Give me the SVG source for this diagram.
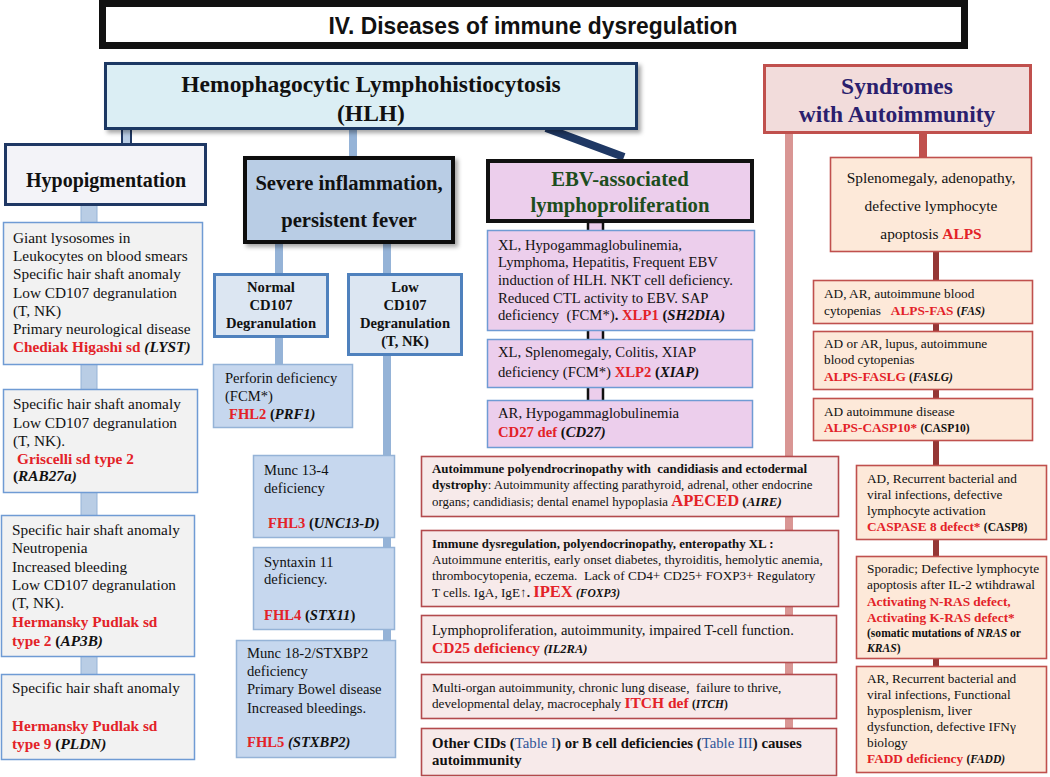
<svg xmlns="http://www.w3.org/2000/svg" width="1050" height="777" viewBox="0 0 1050 777">
<defs>
<filter id="sh" x="-5%" y="-10%" width="115%" height="130%"><feDropShadow dx="3" dy="3" stdDeviation="2" flood-color="#000" flood-opacity="0.35"/></filter>
<style>
text{font-family:"Liberation Serif","Times New Roman",serif;fill:#111;}
.b{font-weight:bold}
.g{font-weight:bold;font-style:italic}
.r{fill:#e32228;font-weight:bold}
.bl{fill:#2f5597;font-weight:normal}
.c{text-anchor:middle}
.lc{fill:#f2f2f2;stroke:#6f9bd4;stroke-width:1.5}
.fh{fill:#c6d7ee;stroke:#95b3d7;stroke-width:1.5}
.eb{fill:#ecceec;stroke:#6f9bd4;stroke-width:1.5}
.au{fill:#f7eaea;stroke:#b34a4d;stroke-width:1.6}
.al{fill:#fde9d9;stroke:#c0504d;stroke-width:1.6}
.cd{fill:#dce6f2;stroke:#4f81bd;stroke-width:3}
.s15{font-size:15.3px}
.s146{font-size:14.6px}
.s147{font-size:14.7px}
.s128{font-size:12.9px}
.s132{font-size:13.2px}
.s133{font-size:13.3px}
</style>
</defs>
<rect width="1050" height="777" fill="#fff"/>

<g id="connectors">
<rect x="122" y="129" width="9" height="15" fill="#b9cde5" stroke="#1f3864" stroke-width="2"/>
<rect x="349" y="130" width="8" height="28" fill="#95b3d7"/>
<line x1="546" y1="128" x2="624" y2="157" stroke="#1f3864" stroke-width="8"/>
<rect x="785" y="134" width="8" height="596" fill="#d99694"/>
<rect x="919" y="134" width="8" height="24" fill="#c0504d"/>
<rect x="933" y="252" width="6" height="415" fill="#953735"/>
<rect x="81" y="205" width="16" height="470" fill="#b9cde5" stroke="#95b3d7" stroke-width="1"/>
<rect x="275" y="242" width="8" height="32" fill="#95b3d7"/>
<rect x="275" y="337" width="8" height="28" fill="#95b3d7"/>
<rect x="383" y="242" width="8" height="400" fill="#95b3d7"/>
<rect x="588" y="222" width="15" height="180" fill="#ecceec" stroke="#111" stroke-width="2.5"/>
</g>

<g id="title">
<rect x="102.5" y="3.5" width="862" height="42" fill="#fff" stroke="#111" stroke-width="7"/>
<text x="533" y="34" class="c" style="font-family:'Liberation Sans',Arial,sans-serif;font-weight:bold;font-size:24px" textLength="409" lengthAdjust="spacingAndGlyphs">IV. Diseases of immune dysregulation</text>
</g>

<g id="hlh">
<rect x="105.5" y="63.5" width="531" height="65" fill="#dbeef4" stroke="#1f3864" stroke-width="3" filter="url(#sh)"/>
<text class="b c" x="371" y="92" style="font-size:23.5px">Hemophagocytic Lymphohistiocytosis</text>
<text class="b c" x="371" y="121" style="font-size:23.5px">(HLH)</text>
</g>

<g id="syndromes">
<rect x="764.5" y="65.5" width="266" height="67" fill="#f2dcdb" stroke="#c0504d" stroke-width="3"/>
<text class="b c" x="897" y="94" style="font-size:23.5px;fill:#2b1f6e">Syndromes</text>
<text class="b c" x="897" y="122" style="font-size:23.5px;fill:#2b1f6e">with Autoimmunity</text>
</g>

<g id="hypopigmentation">
<rect x="5.5" y="144.5" width="200" height="60" fill="#f3f3f8" stroke="#1f3864" stroke-width="3"/>
<text class="b c" x="106" y="187" style="font-size:20px">Hypopigmentation</text>
</g>

<g id="chediak">
<rect class="lc" x="3.5" y="222.5" width="199" height="142"/>
<text class="s15" x="13" y="243">Giant lysosomes in</text>
<text class="s15" x="13" y="261">Leukocytes on blood smears</text>
<text class="s15" x="13" y="279">Specific hair shaft anomaly</text>
<text class="s15" x="13" y="298">Low CD107 degranulation</text>
<text class="s15" x="13" y="316">(T, NK)</text>
<text class="s15" x="13" y="334">Primary neurological disease</text>
<text class="s15" x="13" y="352"><tspan class="r">Chediak Higashi sd</tspan> <tspan class="g">(LYST)</tspan></text>
</g>

<g id="griscelli">
<rect class="lc" x="3.5" y="389.5" width="194" height="103"/>
<text class="s15" x="13" y="409">Specific hair shaft anomaly</text>
<text class="s15" x="13" y="428">Low CD107 degranulation</text>
<text class="s15" x="13" y="446">(T, NK).</text>
<text class="s15 r" x="17" y="464">Griscelli sd type 2</text>
<text class="s15" x="13" y="481"><tspan class="b">(</tspan><tspan class="g">RAB27a)</tspan></text>
</g>

<g id="hp2">
<rect class="lc" x="1.5" y="515.5" width="193" height="141"/>
<text class="s15" x="12" y="535">Specific hair shaft anomaly</text>
<text class="s15" x="12" y="553">Neutropenia</text>
<text class="s15" x="12" y="572">Increased bleeding</text>
<text class="s15" x="12" y="590">Low CD107 degranulation</text>
<text class="s15" x="12" y="608">(T, NK).</text>
<text class="s15 r" x="12" y="627">Hermansky Pudlak sd</text>
<text class="s15" x="12" y="646"><tspan class="r">type 2</tspan> <tspan class="b">(</tspan><tspan class="g">AP3B)</tspan></text>
</g>

<g id="hp9">
<rect class="lc" x="1.5" y="674.5" width="193" height="85"/>
<text class="s15" x="12" y="693">Specific hair shaft anomaly</text>
<text class="s15 r" x="12" y="731">Hermansky Pudlak sd</text>
<text class="s15" x="12" y="749"><tspan class="r">type 9</tspan> <tspan class="b">(</tspan><tspan class="g">PLDN)</tspan></text>
</g>

<g id="severe">
<rect x="245" y="158" width="208" height="84" fill="#b9cde5" stroke="#111" stroke-width="4" filter="url(#sh)"/>
<text class="b c" x="349" y="190" style="font-size:20.6px">Severe inflammation,</text>
<text class="b c" x="349" y="227" style="font-size:20.6px">persistent fever</text>
</g>

<g id="normal-cd107">
<rect class="cd" x="214.5" y="274.5" width="113" height="62"/>
<text class="b c s146" x="271" y="292">Normal</text>
<text class="b c s146" x="271" y="310">CD107</text>
<text class="b c s146" x="271" y="328">Degranulation</text>
</g>

<g id="low-cd107">
<rect class="cd" x="348.5" y="274.5" width="113" height="80"/>
<text class="b c s146" x="405" y="292">Low</text>
<text class="b c s146" x="405" y="310">CD107</text>
<text class="b c s146" x="405" y="328">Degranulation</text>
<text class="b c s146" x="405" y="346">(T, NK)</text>
</g>

<g id="fhl2">
<rect class="fh" x="213.5" y="364.5" width="139" height="63"/>
<text class="s146" x="225" y="383">Perforin deficiency</text>
<text class="s146" x="225" y="401">(FCM*)</text>
<text class="s146" x="229" y="419"><tspan class="r">FHL2</tspan> <tspan class="b">(</tspan><tspan class="g">PRF1)</tspan></text>
</g>

<g id="fhl3">
<rect class="fh" x="253.5" y="455.5" width="141" height="82"/>
<text class="s146" x="264" y="475">Munc 13-4</text>
<text class="s146" x="264" y="493">deficiency</text>
<text class="s146" x="268" y="528"><tspan class="r">FHL3</tspan> <tspan class="b">(</tspan><tspan class="g">UNC13-D)</tspan></text>
</g>

<g id="fhl4">
<rect class="fh" x="253.5" y="547.5" width="141" height="82"/>
<text class="s146" x="264" y="567">Syntaxin 11</text>
<text class="s146" x="264" y="584">deficiency.</text>
<text class="s146" x="264" y="620"><tspan class="r">FHL4</tspan> <tspan class="b">(</tspan><tspan class="g">STX11</tspan><tspan class="b">)</tspan></text>
</g>

<g id="fhl5">
<rect class="fh" x="236.5" y="640.5" width="159" height="117"/>
<text class="s146" x="247" y="658">Munc 18-2/STXBP2</text>
<text class="s146" x="247" y="676">deficiency</text>
<text class="s146" x="247" y="694">Primary Bowel disease</text>
<text class="s146" x="247" y="713">Increased bleedings.</text>
<text class="s146" x="247" y="747"><tspan class="r">FHL5</tspan> <tspan class="g">(STXBP2)</tspan></text>
</g>

<g id="ebv">
<rect x="488" y="161" width="264" height="60" fill="#ecceec" stroke="#111" stroke-width="4"/>
<text class="b c" x="620" y="186" style="font-size:20.7px;fill:#1d4d1d">EBV-associated</text>
<text class="b c" x="620" y="212" style="font-size:20.7px;fill:#1d4d1d">lymphoproliferation</text>
</g>

<g id="xlp1">
<rect class="eb" x="487.5" y="230.5" width="267" height="100"/>
<text class="s147" x="498" y="250">XL, Hypogammaglobulinemia,</text>
<text class="s147" x="498" y="267">Lymphoma, Hepatitis, Frequent EBV</text>
<text class="s147" x="498" y="285">induction of HLH. NKT cell deficiency.</text>
<text class="s147" x="498" y="303">Reduced CTL activity to EBV. SAP</text>
<text class="s147" x="498" y="320" xml:space="preserve">deficiency  (FCM*)<tspan class="b">.</tspan> <tspan class="r">XLP1</tspan> <tspan class="b">(</tspan><tspan class="g">SH2DIA)</tspan></text>
</g>

<g id="xlp2">
<rect class="eb" x="487.5" y="339.5" width="265" height="48"/>
<text class="s147" x="498" y="357">XL, Splenomegaly, Colitis, XIAP</text>
<text class="s147" x="498" y="377">deficiency (FCM*) <tspan class="r">XLP2</tspan> <tspan class="b">(</tspan><tspan class="g">XIAP)</tspan></text>
</g>

<g id="cd27">
<rect class="eb" x="487.5" y="400.5" width="265" height="47"/>
<text class="s147" x="498" y="418">AR, Hypogammaglobulinemia</text>
<text class="s147" x="498" y="437"><tspan class="r">CD27 def</tspan> <tspan class="b">(</tspan><tspan class="g">CD27)</tspan></text>
</g>

<g id="apeced">
<rect class="au" x="421.5" y="456.5" width="417" height="60"/>
<text class="s128 b" x="432" y="473" xml:space="preserve">Autoimmune polyendrocrinopathy with  candidiasis and ectodermal</text>
<text class="s128" x="432" y="489"><tspan class="b">dystrophy</tspan>: Autoimmunity affecting parathyroid, adrenal, other endocrine</text>
<text class="s128" x="432" y="506">organs; candidiasis; dental enamel hypoplasia <tspan class="r" style="font-size:16.5px">APECED</tspan> <tspan class="b">(</tspan><tspan class="g">AIRE)</tspan></text>
</g>

<g id="ipex">
<rect class="au" x="421.5" y="530.5" width="417" height="76"/>
<text class="s128 b" x="432" y="548">Immune dysregulation, polyendocrinopathy, enteropathy XL :</text>
<text class="s132" x="432" y="564">Autoimmune enteritis, early onset diabetes, thyroiditis, hemolytic anemia,</text>
<text class="s132" x="432" y="580" xml:space="preserve">thrombocytopenia, eczema.  Lack of CD4+ CD25+ FOXP3+ Regulatory</text>
<text class="s132" x="432" y="597">T cells. IgA, IgE<tspan class="b">↑.</tspan> <tspan class="r" style="font-size:16.5px">IPEX</tspan> <tspan class="g" style="font-size:11.5px">(FOXP3)</tspan></text>
</g>

<g id="cd25">
<rect class="au" x="421.5" y="615.5" width="415" height="47"/>
<text class="s146" x="432" y="635">Lymphoproliferation, autoimmunity, impaired T-cell function.</text>
<text class="s146" x="432" y="653"><tspan class="r" style="font-size:15.5px">CD25 deficiency</tspan> <tspan class="g" style="font-size:12.5px">(IL2RA)</tspan></text>
</g>

<g id="itch">
<rect class="au" x="421.5" y="674.5" width="415" height="44"/>
<text class="s132" x="432" y="692" xml:space="preserve">Multi-organ autoimmunity, chronic lung disease,  failure to thrive,</text>
<text class="s132" x="432" y="708">developmental delay, macrocephaly <tspan class="r" style="font-size:15.5px">ITCH def</tspan> <tspan class="b" style="font-size:11.5px">(</tspan><tspan class="g" style="font-size:11.5px">ITCH</tspan><tspan class="b" style="font-size:11.5px">)</tspan></text>
</g>

<g id="other-cids">
<rect class="au" x="421.5" y="728.5" width="415" height="47"/>
<text class="b" x="432" y="748" style="font-size:14.8px">Other CIDs (<tspan class="bl">Table I</tspan>) or B cell deficiencies (<tspan class="bl">Table III</tspan>) causes</text>
<text class="b" x="432" y="765" style="font-size:14.8px">autoimmunity</text>
</g>

<g id="alps">
<rect class="al" x="830.5" y="157.5" width="201" height="94"/>
<text class="c" x="931" y="183" style="font-size:15.4px">Splenomegaly, adenopathy,</text>
<text class="c" x="931" y="211" style="font-size:15.4px">defective lymphocyte</text>
<text class="c" x="931" y="239" style="font-size:15.4px">apoptosis <tspan class="r">ALPS</tspan></text>
</g>

<g id="alps-fas">
<rect class="al" x="813.5" y="280.5" width="219" height="43"/>
<text class="s133" x="824" y="298">AD, AR, autoimmune blood</text>
<text class="s133" x="824" y="315" xml:space="preserve">cytopenias   <tspan class="r">ALPS-FAS</tspan> <tspan class="b" style="font-size:11.5px">(</tspan><tspan class="g" style="font-size:11.5px">FAS)</tspan></text>
</g>

<g id="alps-faslg">
<rect class="al" x="813.5" y="331.5" width="219" height="58"/>
<text class="s133" x="824" y="348">AD or AR, lupus, autoimmune</text>
<text class="s133" x="824" y="364">blood cytopenias</text>
<text class="s133" x="824" y="381"><tspan class="r">ALPS-FASLG</tspan> <tspan class="b" style="font-size:11.5px">(</tspan><tspan class="g" style="font-size:11.5px">FASLG)</tspan></text>
</g>

<g id="alps-casp10">
<rect class="al" x="813.5" y="398.5" width="219" height="42"/>
<text class="s133" x="824" y="416">AD autoimmune disease</text>
<text class="s133" x="824" y="432"><tspan class="r">ALPS-CASP10*</tspan> <tspan class="b" style="font-size:11.5px">(CASP10)</tspan></text>
</g>

<g id="caspase8">
<rect class="al" x="856.5" y="465.5" width="190" height="74"/>
<text class="s133" x="867" y="483">AD, Recurrent bacterial and</text>
<text class="s133" x="867" y="499">viral infections, defective</text>
<text class="s133" x="867" y="515">lymphocyte activation</text>
<text class="s133" x="867" y="531"><tspan class="r">CASPASE 8 defect*</tspan> <tspan class="b" style="font-size:11.5px">(CASP8)</tspan></text>
</g>

<g id="ras">
<rect class="al" x="856.5" y="556.5" width="190" height="102"/>
<text class="s133" x="867" y="573">Sporadic; Defective lymphocyte</text>
<text class="s133" x="867" y="589">apoptosis after IL-2 wtihdrawal</text>
<text class="s133 r" x="867" y="606">Activating N-RAS defect,</text>
<text class="s133 r" x="867" y="622">Activating K-RAS defect*</text>
<text class="b" x="867" y="637" style="font-size:11.6px">(somatic mutations of <tspan class="g">NRAS</tspan> or</text>
<text class="b" x="867" y="652" style="font-size:11.6px"><tspan class="g">KRAS</tspan>)</text>
</g>

<g id="fadd">
<rect class="al" x="856.5" y="666.5" width="190" height="106"/>
<text class="s133" x="867" y="683">AR, Recurrent bacterial and</text>
<text class="s133" x="867" y="699">viral infections, Functional</text>
<text class="s133" x="867" y="715">hyposplenism, liver</text>
<text class="s133" x="867" y="731">dysfunction, defective IFNγ</text>
<text class="s133" x="867" y="747">biology</text>
<text class="s133" x="867" y="763"><tspan class="r">FADD deficiency</tspan> <tspan class="b" style="font-size:11.5px">(</tspan><tspan class="g" style="font-size:11.5px">FADD)</tspan></text>
</g>
</svg>
